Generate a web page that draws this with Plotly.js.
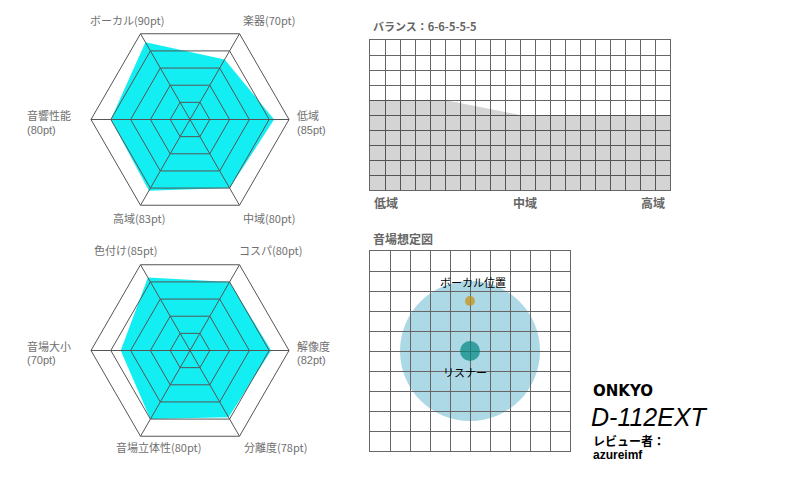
<!DOCTYPE html>
<html><head><meta charset="utf-8">
<script src="https://cdn.plot.ly/plotly-3.0.1.min.js"></script>
<style>html,body{margin:0;padding:0;background:#fff}#chart{width:800px;height:480px}</style>
</head><body><div id="chart"></div>
<script>
// ---- data ----
const radar1Labels = ['ボーカル', '楽器', '低域', '中域', '高域', '音響性能'];
const radar1Values = [90, 70, 85, 80, 83, 80];
const radar2Labels = ['色付け', 'コスパ', '解像度', '分離度', '音場立体性', '音場大小'];
const radar2Values = [85, 80, 82, 78, 80, 70];
const balanceX = [0, 5, 10, 15, 20];
const balanceValues = [6, 6, 5, 5, 5];
const balanceTickLabels = ['低域', '中域', '高域'];
const balanceTickX = [0, 10, 20];
const fieldCenter = [5, 5];
const fieldRadius = 3.5;
const pointLabels = ['ボーカル位置', 'リスナー'];
const pointX = [5, 5];
const pointY = [7.5, 5];
const brand = 'ONKYO';
const model = 'D-112EXT';
const reviewerLabel = 'レビュー者：';
const reviewer = 'azureimf';

// ---- helpers ----
const W = 800, H = 480;
const px = x => x / W;
const py = y => 1 - y / H;
const JP = '"Noto Sans CJK JP", "Noto Sans", sans-serif';
const LAT = '"Liberation Sans", Arial, sans-serif';
const gridCol = '#555';

function polarLayout(xd, yd, overlay) {
  return {
    domain: {x: xd, y: yd},
    gridshape: 'linear',
    bgcolor: overlay ? 'rgba(0,0,0,0)' : '#fff',
    radialaxis: {range: [0, 100], dtick: 20, tick0: 0, showticklabels: false, ticks: '',
      showline: false, showgrid: overlay, gridcolor: gridCol, gridwidth: 1},
    angularaxis: {type: 'category', rotation: 120, direction: 'clockwise',
      showticklabels: false, ticks: '', showline: overlay, linecolor: gridCol, linewidth: 1,
      showgrid: overlay, gridcolor: gridCol, gridwidth: 1}
  };
}

const radarFill = '#12EEF2';
const traces = [
  {type: 'scatterpolar', subplot: 'polar', r: radar1Values, theta: radar1Labels,
   mode: 'lines', fill: 'toself', fillcolor: radarFill, line: {width: 0, color: radarFill}, hoverinfo: 'skip'},
  {type: 'scatterpolar', subplot: 'polar2', r: radar2Values, theta: radar2Labels,
   mode: 'lines', fill: 'toself', fillcolor: radarFill, line: {width: 0, color: radarFill}, hoverinfo: 'skip'},
  // grid overlays (no visible marks, only carry the same categories)
  {type: 'scatterpolar', subplot: 'polar3', r: radar1Values, theta: radar1Labels,
   mode: 'markers', marker: {size: 0, opacity: 0}, hoverinfo: 'skip'},
  {type: 'scatterpolar', subplot: 'polar4', r: radar2Values, theta: radar2Labels,
   mode: 'markers', marker: {size: 0, opacity: 0}, hoverinfo: 'skip'},
  {type: 'scatter', xaxis: 'x', yaxis: 'y', x: balanceX, y: balanceValues, mode: 'lines',
   fill: 'tozeroy', fillcolor: 'rgba(0,0,0,0.17)', line: {width: 0}, hoverinfo: 'skip'},
  {type: 'scatter', xaxis: 'x2', yaxis: 'y2', x: pointX, y: pointY, mode: 'markers',
   marker: {size: [10, 20], color: ['#C8900E', '#00877F'], line: {width: 0}}, hoverinfo: 'skip'}
];

function gridAxis(domain, range, anchor) {
  return {domain: domain, range: range, dtick: 1, tick0: 0, showgrid: true, gridcolor: '#666', gridwidth: 1,
    zeroline: false, showline: true, mirror: true, linecolor: '#666', linewidth: 1,
    showticklabels: false, ticks: '', fixedrange: true, anchor: anchor};
}

const ann = [];
const labFont = {family: JP, size: 11, color: '#707070'};
const ptFont = {family: LAT, size: 11, color: '#707070'};
function lab(text, x, y, xanchor, font) {
  ann.push({text: text, xref: 'paper', yref: 'paper', x: px(x), y: py(y), xanchor: xanchor || 'center',
    yanchor: 'middle', showarrow: false, borderpad: 0, font: font || labFont});
}
const pt = (l, v) => l + '(' + v + 'pt)';
function twoLine(label, value, x, yc) {
  lab(label, x, yc - 7, 'left');
  lab('(' + value + 'pt)', x, yc + 7.5, 'left', ptFont);
}
// top radar labels
lab(pt(radar1Labels[0], radar1Values[0]), 127, 20);
lab(pt(radar1Labels[1], radar1Values[1]), 269, 20);
twoLine(radar1Labels[2], radar1Values[2], 296, 122.5);
lab(pt(radar1Labels[3], radar1Values[3]), 269, 218);
lab(pt(radar1Labels[4], radar1Values[4]), 139, 218);
twoLine(radar1Labels[5], radar1Values[5], 26, 122.5);
// bottom radar labels
lab(pt(radar2Labels[0], radar2Values[0]), 125, 250);
lab(pt(radar2Labels[1], radar2Values[1]), 270, 250);
twoLine(radar2Labels[2], radar2Values[2], 296, 352.5);
lab(pt(radar2Labels[3], radar2Values[3]), 275, 447);
lab(pt(radar2Labels[4], radar2Values[4]), 158, 447);
twoLine(radar2Labels[5], radar2Values[5], 26, 352.5);

// balance title and ticks
ann.push({text: '<b>バランス：' + balanceValues.join('-') + '</b>', xref: 'paper', yref: 'paper',
  x: px(371), y: py(26), xanchor: 'left', yanchor: 'middle', showarrow: false,
  font: {family: JP, size: 11, color: '#666'}});
const tickAnchors = ['left', 'center', 'right'];
const tickShift = [2, 5, -3];
balanceTickLabels.forEach((t, i) => ann.push({text: '<b>' + t + '</b>', xref: 'x', yref: 'paper',
  x: balanceTickX[i], y: py(202), xanchor: tickAnchors[i], xshift: tickShift[i], yanchor: 'middle',
  showarrow: false, font: {family: JP, size: 12, color: '#666'}}));

// sound field title and labels
ann.push({text: '<b>音場想定図</b>', xref: 'paper', yref: 'paper', x: px(371), y: py(238),
  xanchor: 'left', yanchor: 'middle', showarrow: false, font: {family: JP, size: 12, color: '#666'}});
ann.push({text: pointLabels[0], xref: 'x2', yref: 'y2', x: pointX[0], y: pointY[0], xshift: 3, yshift: 19,
  yanchor: 'middle', showarrow: false, font: {family: JP, size: 11, color: '#000'}});
ann.push({text: pointLabels[1], xref: 'x2', yref: 'y2', x: pointX[1], y: pointY[1], xshift: -5, yshift: -21,
  yanchor: 'middle', showarrow: false, font: {family: JP, size: 11, color: '#000'}});

// model info
ann.push({text: '<b>' + brand + '</b>', xref: 'paper', yref: 'paper', x: px(591), y: py(391), xanchor: 'left',
  yanchor: 'middle', showarrow: false, font: {family: '"DejaVu Sans", sans-serif', size: 15, color: '#000'}});
ann.push({text: '<i>' + model + '</i>', xref: 'paper', yref: 'paper', x: px(589), y: py(417), xanchor: 'left',
  yanchor: 'middle', showarrow: false, font: {family: LAT, size: 25, color: '#000'}});
ann.push({text: '<b>' + reviewerLabel + '</b>', xref: 'paper', yref: 'paper', x: px(591), y: py(440), xanchor: 'left',
  yanchor: 'middle', showarrow: false, font: {family: JP, size: 12, color: '#000'}});
ann.push({text: '<b>' + reviewer + '</b>', xref: 'paper', yref: 'paper', x: px(591), y: py(455), xanchor: 'left',
  yanchor: 'middle', showarrow: false, font: {family: LAT, size: 12, color: '#000'}});

const topX = [px(91), px(289)], topY = [py(218.5), py(20.5)];
const botX = [px(91), px(289)], botY = [py(449.5), py(251.5)];
const layout = {
  width: W, height: H, margin: {l: 0, r: 0, t: 0, b: 0}, paper_bgcolor: '#fff', plot_bgcolor: '#fff',
  showlegend: false,
  polar: polarLayout(topX, topY, false),
  polar2: polarLayout(botX, botY, false),
  polar3: polarLayout(topX, topY, true),
  polar4: polarLayout(botX, botY, true),
  xaxis: gridAxis([px(370), px(670)], [0, 20], 'y'),
  yaxis: gridAxis([py(190), py(40)], [0, 10], 'x'),
  xaxis2: gridAxis([px(370), px(570)], [0, 10], 'y2'),
  yaxis2: gridAxis([py(451), py(251)], [0, 10], 'x2'),
  shapes: [{type: 'circle', xref: 'x2', yref: 'y2', layer: 'below',
    x0: fieldCenter[0] - fieldRadius, x1: fieldCenter[0] + fieldRadius,
    y0: fieldCenter[1] - fieldRadius, y1: fieldCenter[1] + fieldRadius,
    fillcolor: '#ADD8E6', line: {width: 0}}],
  annotations: ann
};

Plotly.newPlot('chart', traces, layout, {displayModeBar: false, staticPlot: true});
</script>
</body></html>
